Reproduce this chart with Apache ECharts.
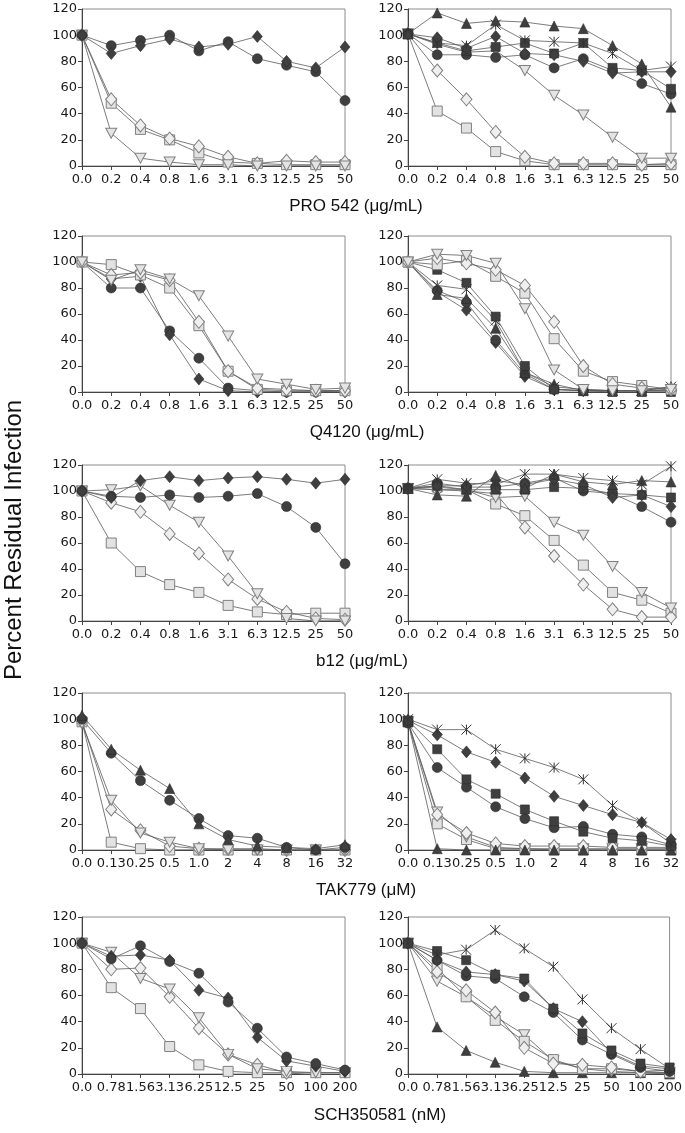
<!DOCTYPE html>
<html>
<head>
<meta charset="utf-8">
<script src="https://cdn.jsdelivr.net/npm/echarts@6/dist/echarts.min.js"></script>
<style>
  html, body { margin: 0; padding: 0; background: #fff; }
  #main { width: 685px; height: 1133px; }
</style>
</head>
<body>
<div id="main"></div>
<script>
"use strict";

// x categories
const doseUg = ["0.0", "0.2", "0.4", "0.8", "1.6", "3.1", "6.3", "12.5", "25", "50"];
const doseTak = ["0.0", "0.13", "0.25", "0.5", "1.0", "2", "4", "8", "16", "32"];
const doseSch = ["0.0", "0.78", "1.56", "3.13", "6.25", "12.5", "25", "50", "100", "200"];
const yTicks = [0, 20, 40, 60, 80, 100, 120];

// PRO 542, left
const proL_diamond = [100, 86, 92, 97, 91, 93, 99, 80, 75, 91];
const proL_circle = [100, 92, 96, 100, 88, 95, 82, 77, 72, 50];
const proL_lsquare = [100, 48, 28, 20, 10, 3, 2, 1, 1, 1];
const proL_ldiamond = [100, 51, 31, 21, 15, 7, 2, 4, 3, 3];
const proL_dtri = [100, 25, 6, 3, 1, 1, 0, 0, 0, 0];

// PRO 542, right
const proR_triangle = [101, 117, 109, 111, 110, 107, 105, 92, 78, 45];
const proR_star = [101, 94, 92, 108, 96, 95, 94, 86, 73, 76];
const proR_diamond = [101, 98, 90, 99, 86, 85, 80, 71, 72, 72];
const proR_square = [101, 94, 88, 91, 94, 86, 94, 75, 73, 59];
const proR_circle = [101, 85, 85, 83, 85, 75, 82, 73, 63, 55];
const proR_dtri = [101, 93, 87, 88, 73, 54, 39, 22, 6, 6];
const proR_ldiamond = [101, 73, 51, 26, 7, 2, 2, 2, 1, 2];
const proR_lsquare = [101, 42, 29, 11, 4, 1, 1, 1, 1, 1];

// Q4120, left
const qL_lsquare = [100, 98, 90, 80, 51, 16, 2, 1, 1, 1];
const qL_ldiamond = [100, 90, 92, 86, 54, 16, 3, 2, 1, 1];
const qL_dtri = [100, 86, 94, 87, 74, 43, 10, 6, 2, 3];
const qL_circle = [100, 80, 80, 47, 26, 3, 1, 0, 0, 1];
const qL_diamond = [100, 87, 89, 44, 10, 1, 0, 0, 0, 0];

// Q4120, right
const qR_dtri = [100, 106, 105, 99, 64, 17, 2, 1, 1, 2];
const qR_lsquare = [100, 98, 101, 89, 76, 41, 16, 8, 5, 2];
const qR_ldiamond = [100, 103, 99, 94, 82, 54, 20, 6, 3, 2];
const qR_square = [100, 94, 84, 58, 20, 2, 1, 0, 0, 0];
const qR_star = [100, 82, 79, 55, 15, 4, 2, 1, 1, 4];
const qR_triangle = [100, 75, 72, 49, 15, 6, 1, 1, 1, 4];
const qR_circle = [100, 78, 69, 40, 14, 2, 1, 1, 1, 1];
const qR_diamond = [100, 77, 63, 38, 12, 2, 1, 1, 1, 1];

// b12, left
const bL_diamond = [100, 95, 108, 111, 108, 110, 111, 109, 106, 109];
const bL_circle = [100, 96, 95, 97, 95, 96, 98, 88, 72, 44];
const bL_dtri = [100, 101, 104, 89, 76, 50, 21, 2, 0, 0];
const bL_ldiamond = [100, 91, 84, 67, 52, 32, 17, 7, 2, 1];
const bL_lsquare = [100, 60, 38, 28, 22, 12, 7, 5, 6, 6];

// b12, right
const bR_star = [102, 109, 106, 105, 113, 113, 110, 108, 105, 119];
const bR_triangle = [102, 97, 96, 112, 102, 113, 107, 105, 108, 107];
const bR_square = [102, 104, 101, 101, 101, 103, 102, 98, 97, 95];
const bR_diamond = [102, 104, 104, 108, 105, 109, 105, 95, 97, 88];
const bR_circle = [102, 106, 103, 103, 106, 110, 100, 98, 88, 76];
const bR_dtri = [102, 101, 101, 95, 96, 76, 66, 42, 22, 10];
const bR_lsquare = [102, 103, 101, 90, 81, 62, 43, 22, 16, 6];
const bR_ldiamond = [102, 101, 100, 98, 72, 50, 28, 9, 3, 3];

// TAK779, left
const tL_triangle = [103, 77, 61, 47, 20, 8, 3, 2, 1, 4];
const tL_circle = [100, 74, 53, 38, 24, 11, 9, 2, 0, 2];
const tL_dtri = [97, 38, 13, 6, 1, 0, 0, 0, 0, 0];
const tL_ldiamond = [98, 31, 15, 3, 1, 1, 1, 0, -1, 0];
const tL_lsquare = [98, 6, 1, 0, 0, 0, 0, 0, 0, 0];

// TAK779, right
const tR_star = [100, 92, 92, 77, 70, 63, 54, 34, 21, 5];
const tR_diamond = [99, 88, 75, 67, 55, 41, 34, 27, 21, 8];
const tR_square = [99, 77, 54, 43, 31, 22, 14, 9, 7, 3];
const tR_circle = [97, 63, 48, 33, 24, 17, 18, 12, 10, 4];
const tR_ldiamond = [98, 27, 13, 5, 3, 3, 3, 2, 2, 2];
const tR_dtri = [98, 29, 10, 2, 1, 1, 1, 1, 1, 1];
const tR_lsquare = [98, 20, 8, 1, 1, 0, 0, 0, 0, 0];
const tR_triangle = [98, 1, 0, 0, 0, 0, 0, 0, 0, 0];

// SCH350581, left
const sL_circle = [100, 88, 98, 86, 77, 55, 35, 13, 8, 3];
const sL_diamond = [100, 90, 91, 87, 64, 58, 28, 10, 6, 2];
const sL_dtri = [100, 93, 73, 65, 43, 15, 4, 2, 1, 1];
const sL_ldiamond = [100, 80, 81, 59, 35, 15, 7, 1, -1, -2];
const sL_lsquare = [100, 66, 50, 21, 7, 2, 1, 1, 1, 1];

// SCH350581, right
const sR_star = [100, 91, 95, 110, 96, 82, 57, 35, 19, 4];
const sR_square = [100, 94, 87, 76, 73, 50, 31, 18, 8, 5];
const sR_diamond = [100, 87, 78, 76, 71, 50, 40, 16, 6, 4];
const sR_circle = [100, 87, 75, 73, 59, 47, 26, 15, 5, 2];
const sR_ldiamond = [100, 78, 64, 47, 20, 8, 7, 5, 2, 3];
const sR_lsquare = [100, 81, 59, 41, 25, 11, 4, 4, 2, 1];
const sR_dtri = [100, 71, 59, 44, 30, 10, 4, 2, 1, 1];
const sR_triangle = [100, 36, 18, 9, 2, 1, 1, 1, 1, 0];

const xTitles = ["PRO 542 (\u03bcg/mL)", "Q4120 (\u03bcg/mL)", "b12 (\u03bcg/mL)", "TAK779 (\u03bcM)", "SCH350581 (nM)"];

// marker looks
const DARK = "#3f3f3f";
const marks = {
  diamond: { symbol: "diamond", symbolSize: [10, 12], itemStyle: { color: DARK, borderColor: "#2a2a2a", borderWidth: 0.6 } },
  circle: { symbol: "circle", symbolSize: 10, itemStyle: { color: DARK, borderColor: "#2a2a2a", borderWidth: 0.6 } },
  square: { symbol: "rect", symbolSize: 9, itemStyle: { color: DARK, borderColor: "#2a2a2a", borderWidth: 0.6 } },
  triangle: { symbol: "triangle", symbolSize: [10, 10], itemStyle: { color: DARK, borderColor: "#2a2a2a", borderWidth: 0.6 } },
  star: { symbol: "path://M0,0 L10,10 M10,0 L0,10 M5,0 L5,10", symbolSize: 10, itemStyle: { color: "rgba(0,0,0,0)", borderColor: "#333", borderWidth: 1 } },
  lsquare: { symbol: "rect", symbolSize: 10, itemStyle: { color: "#e2e2e2", borderColor: "#808080", borderWidth: 1 } },
  ldiamond: { symbol: "diamond", symbolSize: [11, 13], itemStyle: { color: "#efefef", borderColor: "#808080", borderWidth: 1 } },
  dtri: { symbol: "triangle", symbolRotate: 180, symbolSize: [11, 10], itemStyle: { color: "#e4e4e4", borderColor: "#808080", borderWidth: 1 } },
};

const panels = [
  { cats: doseUg, series: [["lsquare", proL_lsquare], ["ldiamond", proL_ldiamond], ["dtri", proL_dtri], ["circle", proL_circle], ["diamond", proL_diamond]] },
  { cats: doseUg, series: [["lsquare", proR_lsquare], ["ldiamond", proR_ldiamond], ["dtri", proR_dtri], ["circle", proR_circle], ["square", proR_square], ["diamond", proR_diamond], ["star", proR_star], ["triangle", proR_triangle]] },
  { cats: doseUg, series: [["circle", qL_circle], ["diamond", qL_diamond], ["lsquare", qL_lsquare], ["ldiamond", qL_ldiamond], ["dtri", qL_dtri]] },
  { cats: doseUg, series: [["diamond", qR_diamond], ["circle", qR_circle], ["triangle", qR_triangle], ["star", qR_star], ["square", qR_square], ["lsquare", qR_lsquare], ["ldiamond", qR_ldiamond], ["dtri", qR_dtri]] },
  { cats: doseUg, series: [["lsquare", bL_lsquare], ["ldiamond", bL_ldiamond], ["dtri", bL_dtri], ["circle", bL_circle], ["diamond", bL_diamond]] },
  { cats: doseUg, series: [["lsquare", bR_lsquare], ["ldiamond", bR_ldiamond], ["dtri", bR_dtri], ["circle", bR_circle], ["square", bR_square], ["diamond", bR_diamond], ["triangle", bR_triangle], ["star", bR_star]] },
  { cats: doseTak, series: [["lsquare", tL_lsquare], ["ldiamond", tL_ldiamond], ["dtri", tL_dtri], ["circle", tL_circle], ["triangle", tL_triangle]] },
  { cats: doseTak, series: [["lsquare", tR_lsquare], ["dtri", tR_dtri], ["ldiamond", tR_ldiamond], ["triangle", tR_triangle], ["circle", tR_circle], ["square", tR_square], ["diamond", tR_diamond], ["star", tR_star]] },
  { cats: doseSch, series: [["lsquare", sL_lsquare], ["ldiamond", sL_ldiamond], ["dtri", sL_dtri], ["diamond", sL_diamond], ["circle", sL_circle]] },
  { cats: doseSch, series: [["triangle", sR_triangle], ["dtri", sR_dtri], ["lsquare", sR_lsquare], ["ldiamond", sR_ldiamond], ["circle", sR_circle], ["diamond", sR_diamond], ["square", sR_square], ["star", sR_star]] },
];

const rowTops = [9, 236, 465, 693, 917];
const rowHeights = [157, 156, 156, 157, 157];
const colLefts = [82, 408];
const plotWidth = 263;
const titleX = [356, 367, 362, 366, 380];
const titleY = [206, 432, 661, 890, 1115];

let chartDom = document.getElementById("main");
let myChart = echarts.init(chartDom, null, { renderer: "canvas" });

const grid = [];
const xAxis = [];
const yAxis = [];
const series = [];

panels.forEach((p, i) => {
  const row = Math.floor(i / 2);
  const col = i % 2;
  grid.push({
    left: colLefts[col],
    top: rowTops[row],
    width: plotWidth,
    height: rowHeights[row],
    show: true,
    borderColor: "#8c8c8c",
    borderWidth: 1,
  });
  xAxis.push({
    gridIndex: i,
    type: "category",
    data: p.cats,
    boundaryGap: false,
    axisLine: { lineStyle: { color: "#444", width: 1 } },
    axisTick: { show: true, length: 4, alignWithLabel: true, lineStyle: { color: "#444" } },
    axisLabel: {
      interval: 0,
      margin: 7,
      color: "#1a1a1a",
      fontFamily: "DejaVu Sans",
      fontSize: 13,
    },
    splitLine: { show: false },
  });
  yAxis.push({
    gridIndex: i,
    type: "value",
    min: yTicks[0],
    max: yTicks[yTicks.length - 1],
    interval: 20,
    axisLine: { show: true, lineStyle: { color: "#444", width: 1 } },
    axisTick: { show: true, length: 4, lineStyle: { color: "#444" } },
    axisLabel: {
      margin: 5,
      color: "#1a1a1a",
      fontFamily: "DejaVu Sans",
      fontSize: 13,
    },
    splitLine: { show: false },
  });
  p.series.forEach(([kind, values]) => {
    const m = marks[kind];
    series.push({
      type: "line",
      xAxisIndex: i,
      yAxisIndex: i,
      data: values,
      symbol: m.symbol,
      symbolSize: m.symbolSize,
      symbolRotate: m.symbolRotate || 0,
      showAllSymbol: true,
      itemStyle: m.itemStyle,
      lineStyle: { color: "#5a5a5a", width: 0.8 },
      animation: false,
    });
  });
});

const graphic = xTitles.map((t, r) => ({
  type: "text",
  x: titleX[r],
  y: titleY[r],
  style: {
    text: t,
    textAlign: "center",
    textVerticalAlign: "middle",
    font: "17px 'Liberation Sans', Arial, sans-serif",
    fill: "#111",
  },
}));
graphic.push({
  type: "text",
  x: 14,
  y: 540,
  rotation: Math.PI / 2,
  style: {
    text: "Percent Residual Infection",
    textAlign: "center",
    textVerticalAlign: "middle",
    font: "24px 'Liberation Sans', Arial, sans-serif",
    fill: "#111",
  },
});

let option = {
  backgroundColor: "#fff",
  animation: false,
  grid: grid,
  xAxis: xAxis,
  yAxis: yAxis,
  series: series,
  graphic: graphic,
};

option && myChart.setOption(option);
</script>
</body>
</html>
